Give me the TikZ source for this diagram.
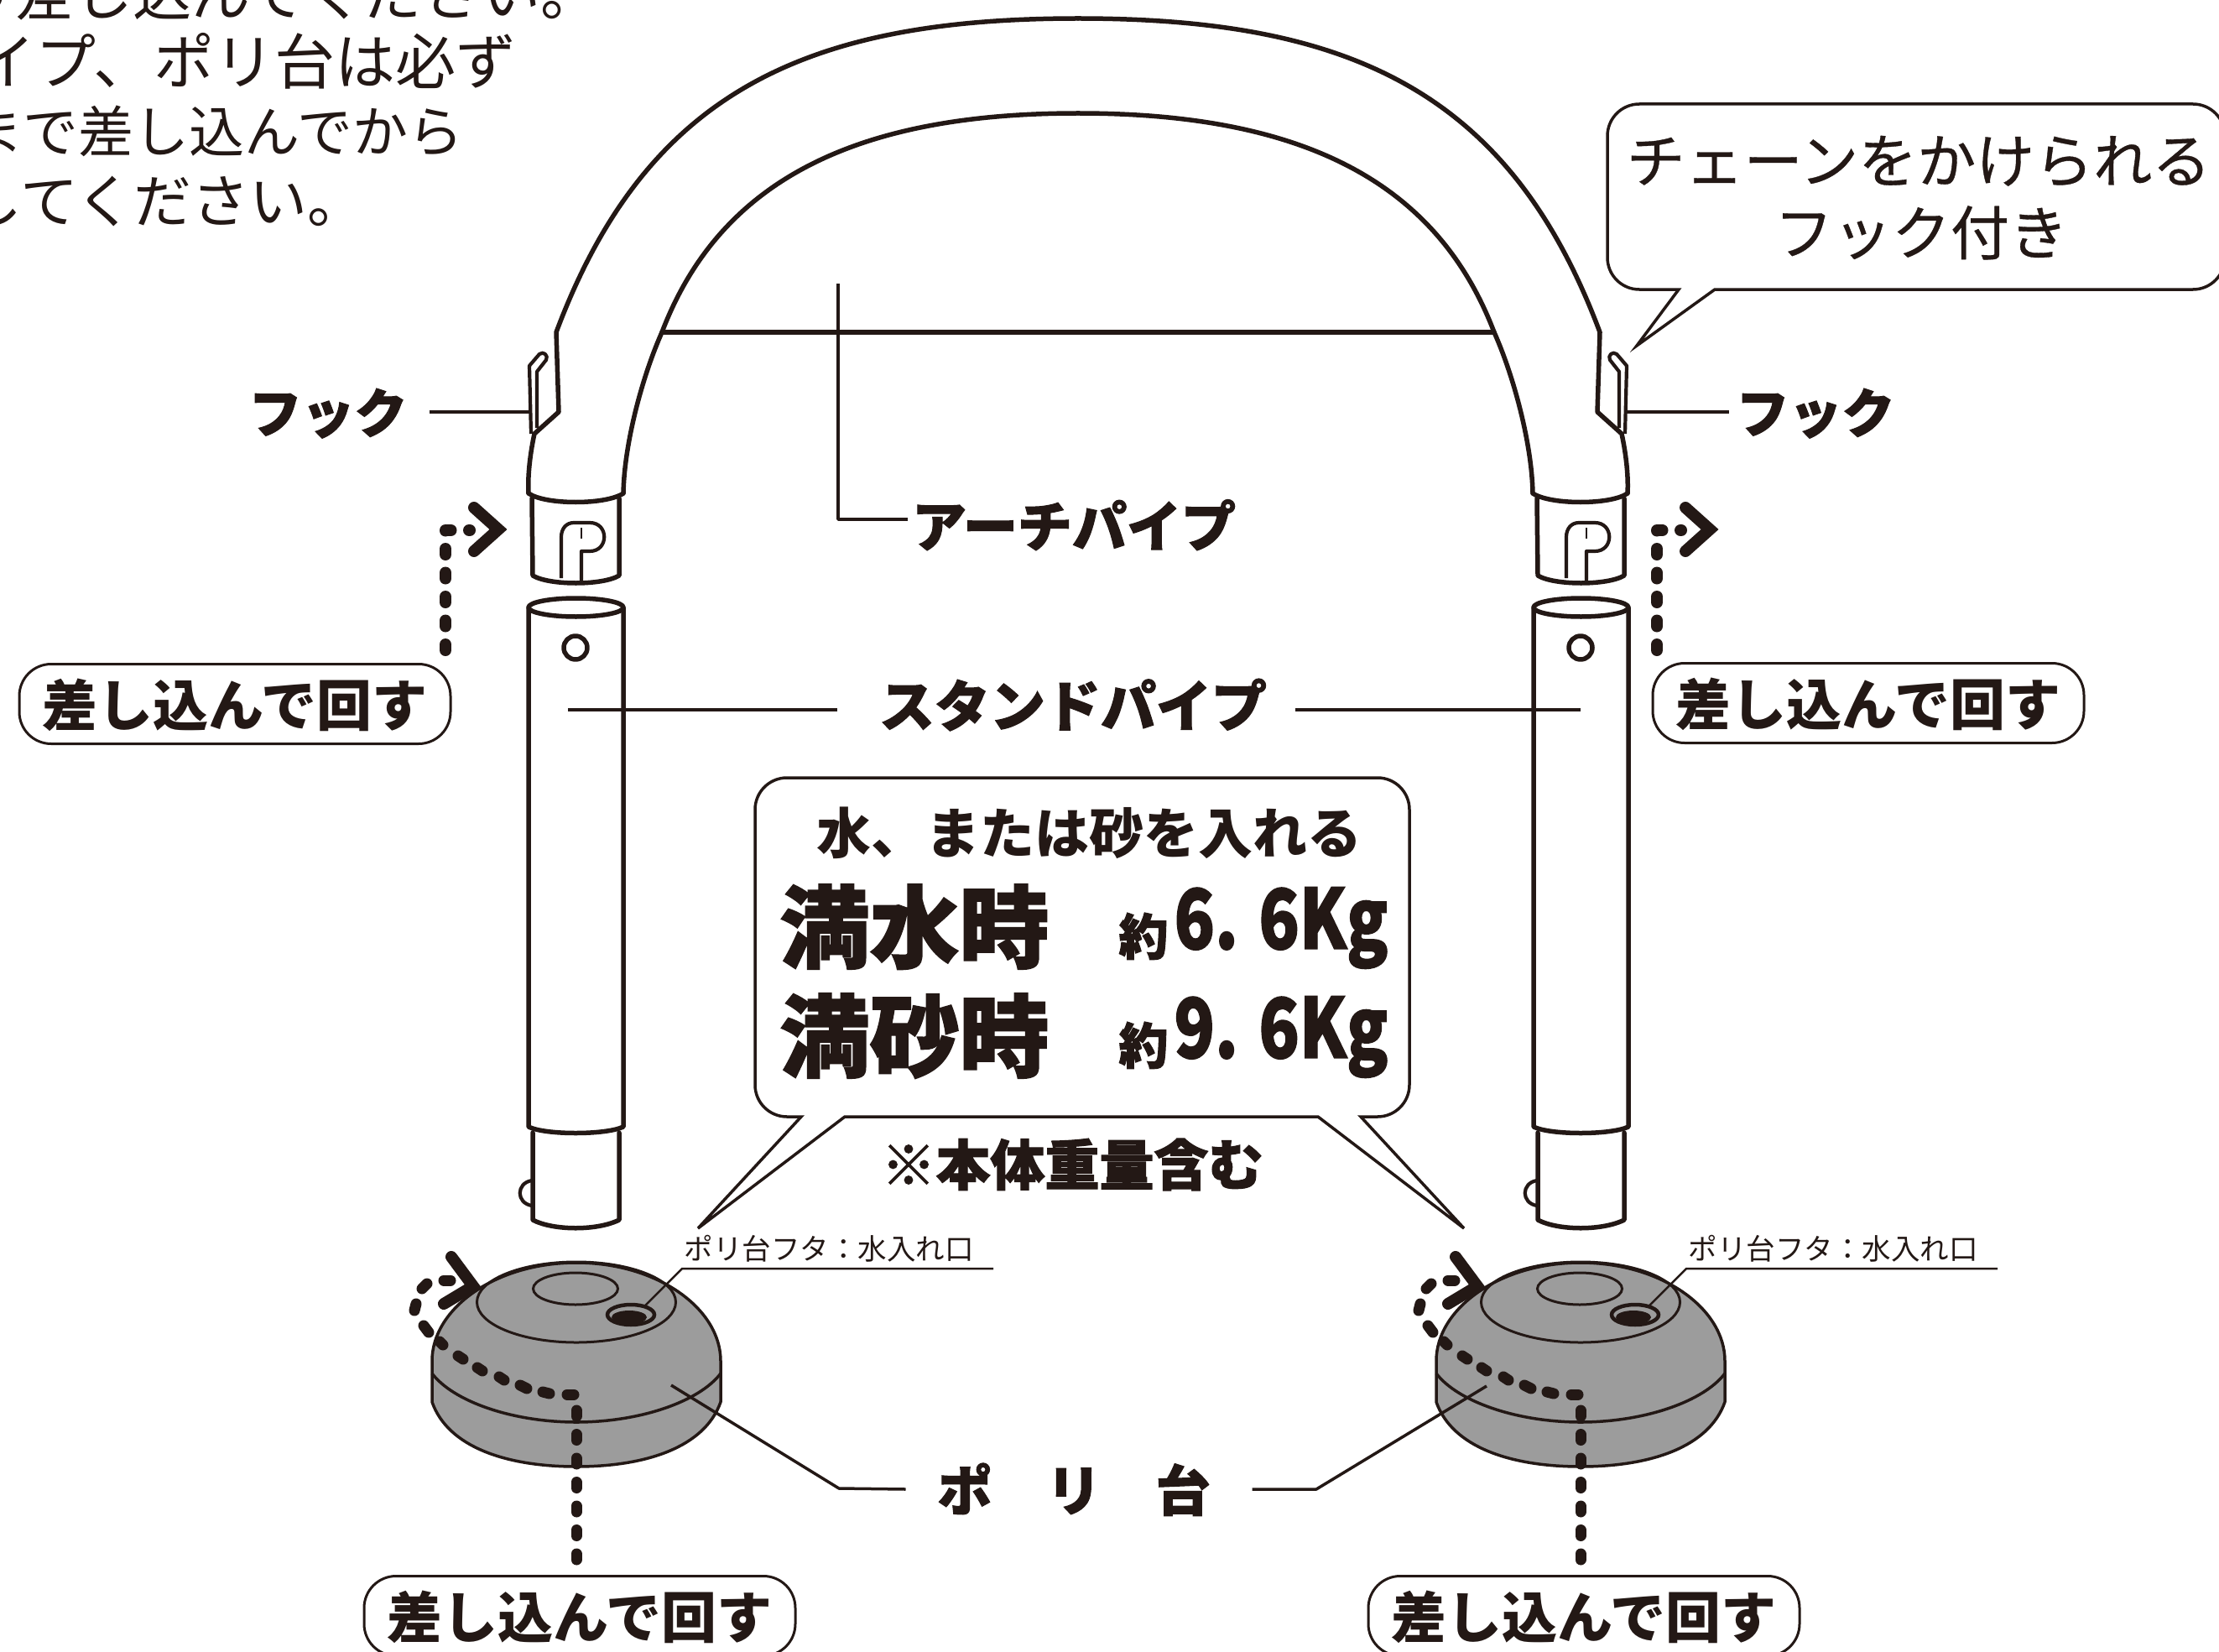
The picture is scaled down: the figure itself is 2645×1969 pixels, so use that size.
\documentclass[tikz,border=0pt]{standalone}
\usepackage{fontspec}
\usepackage{graphicx}
\newfontfamily\jpr{Noto Sans CJK JP}
\newfontfamily\jpm[FakeBold=0.5]{Noto Sans CJK JP}
\newfontfamily\jpk[BoldFeatures={FakeBold=1.6}]{Noto Sans CJK JP}
\definecolor{ink}{HTML}{231815}
\definecolor{polygray}{HTML}{9C9C9C}
\tikzset{
  x=1pt,y=-1pt,
  every node/.style={inner sep=0pt,outer sep=0pt,text=ink,align=center},
  jpreg/.style={font=\jpr\fontsize{#1pt}{#1pt}\selectfont,text height=0.87*#1pt,text depth=0.08*#1pt},
  jpmed/.style={font=\jpm\fontsize{#1pt}{#1pt}\selectfont,text height=0.87*#1pt,text depth=0.08*#1pt},
  jpbold/.style={font=\jpr\bfseries\fontsize{#1pt}{#1pt}\selectfont,text height=0.87*#1pt,text depth=0.08*#1pt},
  jpblack/.style={font=\jpk\bfseries\fontsize{#1pt}{#1pt}\selectfont,text height=0.87*#1pt,text depth=0.08*#1pt},
  pipeline/.style={draw=ink,line width=5.5pt,line join=round,line cap=round},
  thinline/.style={draw=ink,line width=4.2pt,line join=round},
  leader/.style={draw=ink,line width=3.5pt,line join=round},
  hairline/.style={draw=ink,line width=2.5pt,line join=round},
  callout/.style={draw=ink,line width=3.5pt,fill=white,line join=miter},
  rbox/.style={draw=ink,line width=3pt,rounded corners=38pt,minimum width=514pt,minimum height=95pt,fill=white,jpbold=66},
  dots/.style={draw=ink,line width=14pt,line cap=round,line join=round,dash pattern=on 7pt off 21.5pt},
  basedots/.style={draw=ink,line width=13pt,line cap=round},
  chevron/.style={draw=ink,line width=14pt,line cap=round,line join=miter},
  halfarch/.pic={
    \draw[pipeline] (1285,22) .. controls (960,22) and (770,110) .. (663,396)
      -- (666,491) -- (637,517) .. controls (631,545) and (629,570) .. (630,588);
    \draw[pipeline] (630,588) .. controls (650,602) and (722,602) .. (743,588);
    \draw[pipeline] (743,588) .. controls (744,530) and (765,450) .. (789,396)
      .. controls (858,215) and (1020,135) .. (1285,135);
    \draw[thinline] (633,517) -- (631,436) -- (643,422) .. controls (648,418) and (654,424) .. (651,429)
      -- (640,443) -- (640,510);
  },
  pipeset/.pic={
    % socket with logo
    \draw[pipeline] (634,594) -- (635,686) .. controls (655,698) and (718,698) .. (738,686) -- (738,594);
    \draw[thinline] (669,689) -- (669,640) .. controls (669,630) and (675,623) .. (684,623) -- (703,623)
      .. controls (726,623) and (726,657) .. (703,657) -- (693,657) -- (693,692);
    \draw[hairline] (693,629) -- (693,642);
    % stand pipe
    \draw[pipeline] (686.5,724) ellipse [x radius=56.5,y radius=11];
    \draw[pipeline] (630,724) -- (630,1343) .. controls (650,1353) and (722,1353) .. (743,1343) -- (743,724);
    \draw[pipeline] (686,772) circle [radius=14];
    % lower spigot
    \draw[pipeline] (635,1350) -- (635,1454) .. controls (660,1467) and (712,1467) .. (738,1454) -- (738,1350);
    \draw[thinline] (634,1407) .. controls (615,1410) and (615,1434) .. (634,1437);
  },
  twistarrow/.pic={
    \draw[dots] (531,775) -- (531,632) -- (560,632);
    \draw[chevron] (565,605) -- (594,631) -- (565,657);
  },
  polybase/.pic={
    \draw[draw=ink,line width=3.5pt,fill=polygray,line join=round]
      (515,1671) -- (515,1622) .. controls (515,1560) and (590,1505) .. (687,1505)
      .. controls (784,1505) and (859,1560) .. (859,1622) -- (859,1671)
      .. controls (840,1725) and (770,1748) .. (687,1748)
      .. controls (604,1748) and (534,1725) .. (515,1671) -- cycle;
    \draw[draw=ink,line width=3.5pt] (515,1637) .. controls (540,1670) and (610,1695) .. (687,1695)
      .. controls (764,1695) and (834,1670) .. (859,1637);
    \draw[draw=ink,line width=3pt] (687,1552) ellipse [x radius=118.5,y radius=48];
    \draw[draw=ink,line width=3pt] (686,1536) ellipse [x radius=50.5,y radius=19];
    \draw[draw=ink,line width=4.5pt] (752,1567) ellipse [x radius=28,y radius=12];
    \fill[ink] (750,1570) ellipse [x radius=21,y radius=8];
    \node[jpreg=34.5] (-cap) at (988,1488) {ポリ台フタ：水入れ口};
    \coordinate (-capa) at (1184,1512);
    \coordinate (-capb) at (813,1512);
    \coordinate (-capc) at (767,1558);
    \draw[hairline] (-capa) -- (-capb) -- (-capc);
    \draw[dots,line width=13pt] (687,1859) -- (687,1680);
    \draw[basedots] (684,1662) -- (676,1662);
    \draw[basedots] (655,1661) -- (647,1659);
    \draw[basedots] (628,1655) -- (620,1651);
    \draw[basedots] (601,1645) -- (595,1641);
    \draw[basedots] (575,1634) -- (569,1630);
    \draw[basedots] (552,1620) -- (546,1616);
    \draw[basedots] (528,1603) -- (524,1599);
    \draw[basedots] (511,1588) -- (505,1580);
    \draw[basedots] (494,1562) -- (496,1554);
    \draw[basedots] (503,1536) -- (509,1530);
    \draw[basedots] (529,1526) -- (537,1526);
    \draw[chevron] (538,1498) -- (564,1533) -- (529,1554);
  },
}
\begin{document}
\begin{tikzpicture}
\useasboundingbox (0,0) rectangle (2645,1969);
\fill[white] (0,0) rectangle (2645,1969);

% instruction text, cut by the page edge
\node[jpreg=70,anchor=east] (noteA) at (715,-9) {り差し込んでください。};
\node[jpreg=72,anchor=east] (noteB) at (616,72) {イプ、ポリ台は必ず};
\node[jpreg=66,anchor=east] (noteC) at (552,155) {まで差し込んでから};
\node[jpreg=69,anchor=east] (noteD) at (436,238) {してください。};

% arch
\draw[pipeline] (789,396) -- (1781,396);
\pic at (0,0) {halfarch};
\pic[xshift=2570pt,xscale=-1] at (0,0) {halfarch};

% pipes
\pic at (0,0) {pipeset};
\pic at (1198,0) {pipeset};

% twist arrows
\pic at (0,0) {twistarrow};
\pic at (1444,0) {twistarrow};

% hook callout
\draw[callout] (2001,345) -- (1954,345) .. controls (1933,345) and (1916,328) .. (1916,307)
  -- (1916,162) .. controls (1916,141) and (1933,124) .. (1954,124) -- (2614,124)
  .. controls (2635,124) and (2652,141) .. (2652,162) -- (2652,307)
  .. controls (2652,328) and (2635,345) .. (2614,345) -- (2044,345) -- (1951,412) -- cycle;
\node[jpmed=70] (hookA) at (2287,190) {チェーンをかけられる};
\node[jpmed=70] (hookB) at (2290,276) {フック付き};

% hook labels
\node[jpblack=63] (fookL) at (391,491) {フック};
\node[jpblack=63] (fookR) at (2164,491) {フック};
\coordinate (hookTipL) at (631,491);
\coordinate (hookTipR) at (1939,491);
\draw[leader] ([xshift=26pt]fookL.east) -- (hookTipL);
\draw[leader] ([xshift=-9pt]fookR.west) -- (hookTipR);

% arch label
\node[jpblack=65] (archLbl) at (1280,626) {アーチパイプ};
\coordinate (archTop) at (999,338);
\coordinate (archElbow) at (999,619);
\draw[leader] (archTop) -- (archElbow) -- ([xshift=-5pt,yshift=7pt]archLbl.west);

% stand label
\node[jpblack=66] (standLbl) at (1279,840) {スタンドパイプ};
\coordinate (standL) at (677,846);
\coordinate (standR) at (1884,846);
\draw[leader] ([xshift=-50pt,yshift=-6pt]standLbl.west) -- (standL);
\draw[leader] ([xshift=34pt,yshift=-6pt]standLbl.east) -- (standR);

% twist labels
\node[rbox] (twistTL) at (280,839) {差し込んで回す};
\node[rbox] (twistTR) at (2227,838) {差し込んで回す};

% weight callout
\draw[callout] (955,1331) -- (938,1331) .. controls (917,1331) and (900,1314) .. (900,1293)
  -- (900,965) .. controls (900,944) and (917,927) .. (938,927) -- (1642,927)
  .. controls (1663,927) and (1680,944) .. (1680,965) -- (1680,1293)
  .. controls (1680,1314) and (1663,1331) .. (1642,1331) -- (1622,1331) -- (1745,1464) -- (1571,1331)
  -- (1007,1331) -- (832,1464) -- cycle;
\node[jpbold=65] (fillLbl) at (1298,992) {水、または砂を入れる};
\node[jpblack=107] (waterLbl) at (1090,1103) {満水時};
\node[jpblack=107] (sandLbl) at (1090,1233) {満砂時};
\node[jpblack=59] (aboutA) at (1363,1115) {約};
\node[jpblack=59] (aboutB) at (1363,1245) {約};
\node (waterVal) at (1527,1106) {\resizebox*{255pt}{97pt}{\jpk\bfseries\fontsize{100pt}{100pt}\selectfont 6. 6Kg}};
\node (sandVal) at (1527,1236) {\resizebox*{255pt}{97pt}{\jpk\bfseries\fontsize{100pt}{100pt}\selectfont 9. 6Kg}};
\node[jpblack=65] (noteWeight) at (1278,1387) {※本体重量含む};

% poly bases
\pic (baseL) at (0,0) {polybase};
\pic (baseR) at (1197,0) {polybase};

% poly label
\node[jpblack=65] (polyLbl) at (1280,1775) {ポ　リ　台};
\coordinate (polyElbowL) at (1000,1774);
\coordinate (polyEndL) at (800,1651);
\coordinate (polyElbowR) at (1569,1775);
\coordinate (polyEndR) at (1772,1652);
\draw[leader] ([xshift=-38pt]polyLbl.west) -- (polyElbowL) -- (polyEndL);
\draw[leader] ([xshift=50pt]polyLbl.east) -- (polyElbowR) -- (polyEndR);

\node[rbox] (twistBL) at (691,1926) {差し込んで回す};
\node[rbox] (twistBR) at (1888,1926) {差し込んで回す};
\end{tikzpicture}
\end{document}
